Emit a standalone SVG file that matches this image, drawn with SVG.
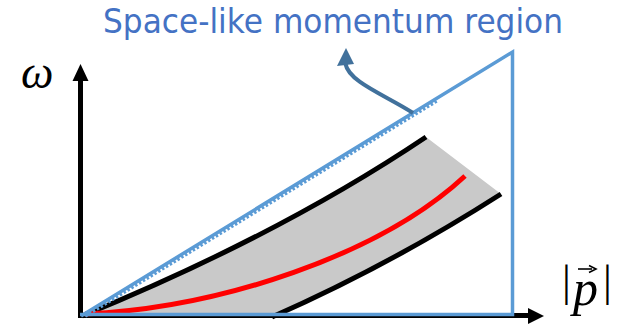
<svg xmlns="http://www.w3.org/2000/svg" width="633" height="327" viewBox="0 0 633 327">
<style>
.blk{fill:none;stroke:#000;stroke-width:5;stroke-linecap:butt}
.blue{fill:none;stroke:#5B9BD5;stroke-width:3.5}
.math{font-family:"Liberation Serif","DejaVu Serif",serif;fill:#000}
.title{font-family:"DejaVu Sans","Verdana",sans-serif;font-size:33px;fill:#4472C4}
</style>
<rect width="633" height="327" fill="#fff"/>
<g id="band">
<path d="M82,316 Q280,235 426,137 L501,194 Q390,265 272,317 Z" fill="#C9C9C9"/>
</g>
<g id="axes">
<line x1="80.5" y1="318" x2="80.5" y2="78" class="blk" stroke-width="4.5"/>
<polygon points="80.5,64 72.5,81 88.5,81" fill="#000"/>
<line x1="78" y1="315.5" x2="530" y2="315.5" class="blk" stroke-width="4.5"/>
<polygon points="544,316 528,308 528,324" fill="#000"/>
</g>
<g id="curves">
<path d="M82,316 Q280,235 426,137" class="blk"/>
<path d="M272,317 Q390,265 501,194" class="blk"/>
<path d="M85,314 C220,308 380,255 465,176" fill="none" stroke="#FF0000" stroke-width="5"/>
</g>
<g id="spacelike">
<path d="M81,316 L512.5,52 L512.5,314.5 L80,314.5" class="blue"/>
<line x1="85.3" y1="316.3" x2="437.3" y2="100.9" stroke="#5B9BD5" stroke-width="3" stroke-dasharray="2.5 2"/>
</g>
<g id="connectors">
<path d="M413,113 C385,95 349,82 345.5,64" fill="none" stroke="#41719C" stroke-width="4"/>
<polygon points="346,48 337,66 354,64" fill="#41719C"/>
</g>
<g id="labels">
<text x="103" y="33" class="title" textLength="460" lengthAdjust="spacingAndGlyphs">Space-like momentum region</text>
<text x="21" y="88" class="math" font-size="46" font-style="italic">ω</text>
<text class="math" font-size="44"><tspan x="562" y="296">|</tspan><tspan x="573" y="305" font-size="50" font-style="italic">p</tspan><tspan x="603" y="296">|</tspan></text>
<g id="vecarrow">
<line x1="578" y1="269" x2="592" y2="269" stroke="#000" stroke-width="1.6"/>
<path d="M589,265.5 L596,269 L589,272.5" fill="none" stroke="#000" stroke-width="1.6"/>
</g>
</g>
</svg>
